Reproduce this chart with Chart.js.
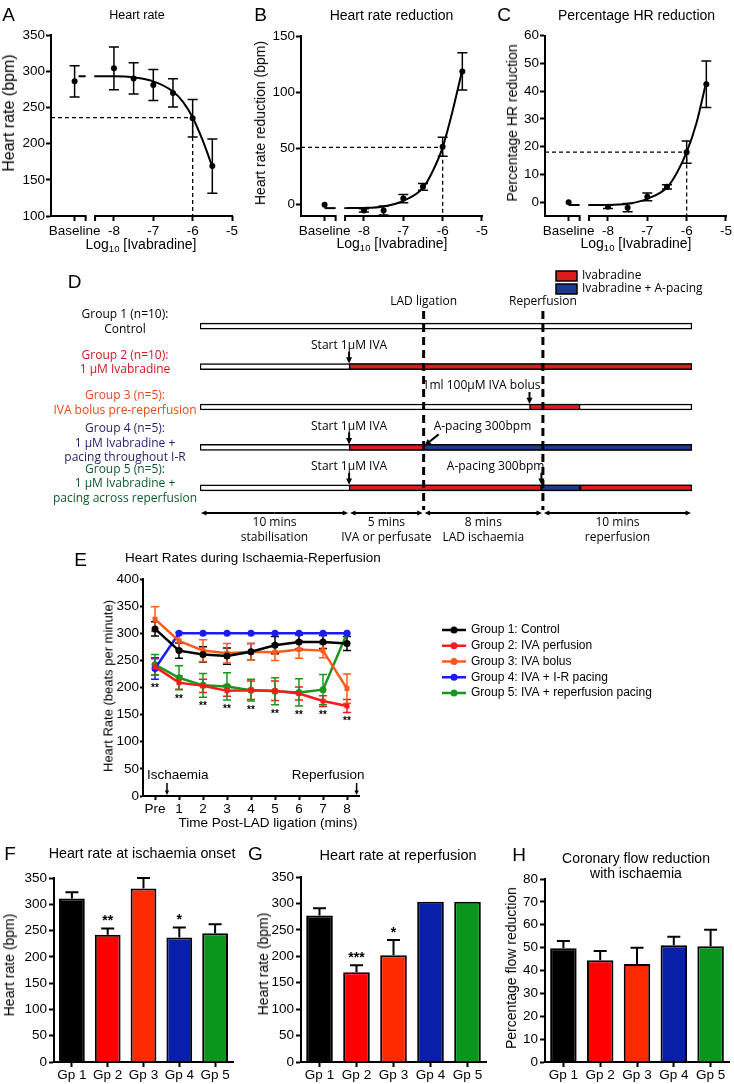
<!DOCTYPE html>
<html>
<head>
<meta charset="utf-8">
<script src="https://cdn.jsdelivr.net/npm/chart.js@4.4.1/dist/chart.umd.min.js"></script>
<style>
  body { margin: 0; background: #fff; }
  #page { position: relative; width: 734px; height: 1084px; overflow: hidden;
          font-family: "Liberation Sans", Arial, Helvetica, sans-serif; color: #000; }
  #page canvas { position: absolute; }
  .txt { position: absolute; white-space: nowrap; line-height: 1; transform: translate(-50%, -50%); }
  .txt sub { font-size: 0.68em; vertical-align: -0.3em; }
</style>
</head>
<body>
<div id="page"></div>
<script>
// ---- A-C: dose response to ivabradine (log10 M) ----
const doseTickValues = [-9, -8, -7, -6, -5];
const doseLabels = ['Baseline', '-8', '-7', '-6', '-5'];
const doseX = [-9, -8, -7.5, -7, -6.5, -6, -5.5];

const hrMean = [286, 304, 290, 281, 270, 235, 169];
const hrSem = [21.5, 29.5, 21.5, 21.5, 19.5, 26, 37.5];
const hrFitX = [-8.5, -8, -7.5, -7, -6.5, -6.25, -6, -5.75, -5.5];
const hrFit = [293, 293, 291.5, 286, 272, 258, 236, 205, 168];
const hrTicks = [100, 150, 200, 250, 300, 350];

const redMean = [0, -5, -5, 5.5, 16, 51.5, 118.5];
const redSem = [0, 1.5, 4, 3.7, 3, 8.4, 16.6];
const redFit = [-3, -2.8, -1.5, 3.5, 15, 30, 51, 83, 120];
const redTicks = [0, 50, 100, 150];

const pctMean = [0, -1.7, -2, 1.9, 5.5, 18, 42.5];
const pctSem = [0, 0.6, 1.5, 1.4, 0.8, 4, 8.4];
const pctFit = [-1, -1, -0.6, 1.2, 5.3, 10.5, 18, 28.5, 43.5];
const pctTicks = [0, 10, 20, 30, 40, 50, 60];

// ---- D: protocol timeline (minutes) ----
const groupNames = [
  ['Group 1 (n=10):', 'Control'],
  ['Group 2 (n=10):', '1 μM Ivabradine'],
  ['Group 3 (n=5):', 'IVA bolus pre-reperfusion'],
  ['Group 4 (n=5):', '1 μM Ivabradine +', 'pacing throughout I-R'],
  ['Group 5 (n=5):', '1 μM Ivabradine +', 'pacing across reperfusion']
];
const phaseNames = [['10 mins', 'stabilisation'], ['5 mins', 'IVA or perfusate'], ['8 mins', 'LAD ischaemia'], ['10 mins', 'reperfusion']];
const phaseEnds = [10, 15, 23, 33];
const ivaSegments = [null, [10, 33], [22.1, 25.5], [10, 15], [10, 22.9]];
const ivaLateSegments = [null, null, null, null, [25.5, 33]];
const pacingSegments = [null, null, null, [15, 33], [22.9, 25.5]];
const protocolEvents = [
  { group: 1, t: 10, text: 'Start 1μM IVA', align: 'center', dx: 0 },
  { group: 2, t: 22.1, text: '1ml 100μM IVA bolus', align: 'right', dx: 11 },
  { group: 3, t: 10, text: 'Start 1μM IVA', align: 'center', dx: 0 },
  { group: 3, t: 15, text: 'A-pacing 300bpm', align: 'left', dx: 10, diagonal: true },
  { group: 4, t: 10, text: 'Start 1μM IVA', align: 'center', dx: 0 },
  { group: 4, t: 22.9, text: 'A-pacing 300bpm', align: 'right', dx: 3 }
];

// ---- E: heart rate during ischaemia-reperfusion ----
const eTimes = [0, 1, 2, 3, 4, 5, 6, 7, 8];
const eTickLabels = ['Pre', '1', '2', '3', '4', '5', '6', '7', '8'];
const eLabels = ['Group 1: Control', 'Group 2: IVA perfusion', 'Group 3: IVA bolus', 'Group 4: IVA + I-R pacing', 'Group 5: IVA + reperfusion pacing'];
const g1Mean = [308, 268, 261, 258, 266, 278, 284, 284, 281];
const g1Sem = [13, 14, 14, 15, 15, 16, 13, 12, 13];
const g2Mean = [238, 209, 203, 194, 195, 194, 189, 175, 166];
const g2Sem = [15, 12, 12, 10, 17, 18, 12, 10, 12];
const g3Mean = [326, 286, 268, 263, 266, 265, 270, 268, 198];
const g3Sem = [23, 16, 20, 18, 15, 15, 16, 13, 27];
const g4Mean = [235, 300, 300, 300, 300, 300, 300, 300, 300];
const g4Sem = [20, 0, 0, 0, 0, 0, 0, 0, 0];
const g5Mean = [242, 218, 204, 202, 195, 193, 191, 196, 300];
const g5Sem = [19, 22, 22, 25, 20, 25, 25, 28, 0];
const eSig = ['**', '**', '**', '**', '**', '**', '**', '**', '**'];

// ---- F-H: group comparisons ----
const gpLabels = ['Gp 1', 'Gp 2', 'Gp 3', 'Gp 4', 'Gp 5'];
const onsetMean = [311, 242, 330, 237, 245];
const onsetSem = [12, 12, 20, 19, 17];
const onsetSig = ['', '**', '', '*', ''];
const reperfMean = [277, 170, 202, 303, 303];
const reperfSem = [14, 13, 29, 0, 0];
const reperfSig = ['', '***', '*', '', ''];
const flowMean = [49.7, 44.5, 42.8, 51, 50.6];
const flowSem = [3.2, 4, 7.2, 3.8, 7.2];
const flowSig = ['', '', '', '', ''];
const hrBarTicks = [0, 50, 100, 150, 200, 250, 300, 350];
const flowTicks = [0, 10, 20, 30, 40, 50, 60, 70, 80];

// colours
const black = '#000000';
const gpColors = ['#000000', '#ff0000', '#ff2a00', '#0a1fa8', '#0a961c'];
const lineColors = ['#000000', '#ff1a1a', '#ff5a1a', '#1a1aff', '#1a961e'];
const groupColors = ['#000000', '#d4161d', '#e9481c', '#1f1f6e', '#0c5a2a'];
const ivaRed = '#e01b1b';
const pacingBlue = '#1f3a8c';

const doseMin = -9.6, breakLeft = -8.72, breakRight = -8.48;

Chart.defaults.font.family = '"Liberation Sans", Arial, Helvetica, sans-serif';
Chart.defaults.font.size = 13.5;
Chart.defaults.color = black;

const page = document.getElementById('page');

function addCanvas(left, top, w, h) {
  const c = document.createElement('canvas');
  c.width = w; c.height = h;
  c.style.left = left + 'px'; c.style.top = top + 'px';
  c.style.width = w + 'px'; c.style.height = h + 'px';
  page.appendChild(c);
  return c;
}

function addText(html, x, y, size, mode) {
  const d = document.createElement('div');
  d.className = 'txt';
  d.innerHTML = html;
  d.style.left = x + 'px'; d.style.top = y + 'px'; d.style.fontSize = size + 'px';
  if (mode === 'rotate') d.style.transform = 'translate(-50%, -50%) rotate(-90deg)';
  if (mode === 'left') d.style.transform = 'translate(0, -50%)';
  page.appendChild(d);
}

function arrow(ctx, x1, y1, x2, y2, head) {
  head = head || 5;
  const a = Math.atan2(y2 - y1, x2 - x1);
  ctx.beginPath();
  ctx.moveTo(x1, y1);
  ctx.lineTo(x2 - Math.cos(a) * head * 0.8, y2 - Math.sin(a) * head * 0.8);
  ctx.stroke();
  ctx.beginPath();
  ctx.moveTo(x2, y2);
  ctx.lineTo(x2 - head * Math.cos(a - 0.45), y2 - head * Math.sin(a - 0.45));
  ctx.lineTo(x2 - head * Math.cos(a + 0.45), y2 - head * Math.sin(a + 0.45));
  ctx.closePath();
  ctx.fill();
}

function axisY(o) {
  return {
    type: 'linear', min: o.min, max: o.max,
    border: { display: true, color: black, width: 2 },
    grid: { display: true, drawOnChartArea: false, drawTicks: true, tickLength: o.tick || 5, tickColor: black, tickWidth: 2 },
    ticks: { padding: o.pad === undefined ? 1 : o.pad, color: black, font: { size: 13.5 } },
    afterBuildTicks: s => { s.ticks = o.ticks.map(v => ({ value: v })); },
    afterFit: s => { s.width = o.width; }
  };
}

// symmetric error bars, drawn from the chart's own scales
function errorBars(xs, means, sems, colors, cap) {
  return {
    id: 'errorBars',
    beforeDatasetsDraw(chart) {
      const { ctx, scales: { x, y } } = chart;
      ctx.save();
      ctx.lineWidth = 1.5;
      means.forEach((m, k) => {
        ctx.strokeStyle = colors[k];
        xs.forEach((xv, i) => {
          if (!sems[k][i]) return;
          const px = x.getPixelForValue(xv);
          const top = y.getPixelForValue(m[i] + sems[k][i]);
          const bot = y.getPixelForValue(m[i] - sems[k][i]);
          ctx.beginPath();
          ctx.moveTo(px, top); ctx.lineTo(px, bot);
          ctx.moveTo(px - cap, top); ctx.lineTo(px + cap, top);
          ctx.moveTo(px - cap, bot); ctx.lineTo(px + cap, bot);
          ctx.stroke();
        });
      });
      ctx.restore();
    }
  };
}

// x axis with a break between Baseline and the concentrations
const brokenAxis = {
  id: 'brokenAxis',
  afterDraw(chart) {
    const { ctx, chartArea, scales: { x } } = chart;
    const yb = chartArea.bottom;
    ctx.save();
    ctx.strokeStyle = black; ctx.lineWidth = 2;
    ctx.beginPath();
    ctx.moveTo(x.getPixelForValue(doseMin), yb);
    ctx.lineTo(x.getPixelForValue(breakLeft), yb);
    ctx.lineTo(x.getPixelForValue(breakLeft), yb + 5);
    ctx.moveTo(x.getPixelForValue(breakRight), yb + 5);
    ctx.lineTo(x.getPixelForValue(breakRight), yb);
    ctx.lineTo(x.getPixelForValue(-5) + 1, yb);
    ctx.stroke();
    ctx.restore();
  }
};

function doseChart(o) {
  const canvas = addCanvas(o.left, 0, 245, 262);
  new Chart(canvas, {
    type: 'line',
    data: {
      datasets: [
        { data: hrFitX.map((x, i) => ({ x: x, y: o.fit[i] })), borderColor: black, borderWidth: 2,
          pointRadius: 0, cubicInterpolationMode: 'monotone' },
        { data: [{ x: o.baseFrom, y: o.fit[0] }, { x: breakLeft, y: o.fit[0] }], borderColor: black,
          borderWidth: 2, pointRadius: 0 },
        { data: [{ x: doseMin, y: o.fit[6] }, { x: -6, y: o.fit[6] }, { x: -6, y: o.min }], borderColor: black,
          borderWidth: 1.3, borderDash: [4, 3], pointRadius: 0, tension: 0 },
        { data: doseX.map((x, i) => ({ x: x, y: o.mean[i] })), showLine: false, pointRadius: 3,
          pointBackgroundColor: black, pointBorderColor: black, pointBorderWidth: 0 }
      ]
    },
    options: {
      responsive: false, animation: false, events: [], devicePixelRatio: 1,
      layout: { autoPadding: false, padding: { left: 0, top: o.top, right: o.right, bottom: 6 } },
      plugins: { legend: { display: false }, tooltip: { enabled: false } },
      scales: {
        x: {
          type: 'linear', min: doseMin, max: -5,
          border: { display: false },
          grid: { display: true, drawOnChartArea: false, drawTicks: true, tickLength: 5, tickColor: black, tickWidth: 2 },
          ticks: { padding: 2, color: black, font: { size: 13.5 }, maxRotation: 0, autoSkip: false,
                   callback: (v, i) => doseLabels[i] },
          afterBuildTicks: s => { s.ticks = doseTickValues.map(v => ({ value: v })); },
          afterFit: s => { s.height = 40; }
        },
        y: axisY({ min: o.min, max: o.max, ticks: o.ticks, width: o.width })
      }
    },
    plugins: [errorBars(doseX, [o.mean], [o.sem], [black], 5), brokenAxis]
  });
}

doseChart({ left: 0, top: 35, right: 13, width: 51, min: 100, max: 350, ticks: hrTicks,
            mean: hrMean, sem: hrSem, fit: hrFit, baseFrom: -8.9 });
doseChart({ left: 245, top: 36, right: 8, width: 56, min: -10, max: 150, ticks: redTicks,
            mean: redMean, sem: redSem, fit: redFit, baseFrom: -9.0 });
doseChart({ left: 489, top: 35.7, right: 7, width: 56, min: -5, max: 60, ticks: pctTicks,
            mean: pctMean, sem: pctSem, fit: pctFit, baseFrom: -9.0 });

// ---- D ----
const schemePlugin = {
  id: 'scheme',
  afterDatasetsDraw(chart) {
    const { ctx, chartArea: area, scales: { x, y } } = chart;
    const rowY = i => y.getPixelForValue(i);
    ctx.save();
    ctx.font = '12px "Open Sans"';
    ctx.textBaseline = 'middle';

    // group descriptions
    ctx.textAlign = 'center';
    groupNames.forEach((lines, i) => {
      ctx.fillStyle = groupColors[i];
      const y0 = rowY(i) - 4 - (lines.length - 1) * 14.5 / 2;
      lines.forEach((s, k) => ctx.fillText(s, 125, y0 + k * 14.5));
    });

    // LAD ligation / reperfusion markers
    ctx.fillStyle = black; ctx.strokeStyle = black;
    [[phaseEnds[1], 'LAD ligation'], [phaseEnds[2], 'Reperfusion']].forEach(([t, label]) => {
      const px = x.getPixelForValue(t);
      ctx.fillText(label, px, 40);
      ctx.lineWidth = 3; ctx.setLineDash([8, 5]);
      ctx.beginPath(); ctx.moveTo(px, 49); ctx.lineTo(px, area.bottom + 2); ctx.stroke();
    });
    ctx.setLineDash([]);

    // drug / pacing events
    protocolEvents.forEach(ev => {
      const px = x.getPixelForValue(ev.t), py = rowY(ev.group);
      ctx.textAlign = ev.align;
      ctx.fillText(ev.text, px + ev.dx, py - 21);
      ctx.lineWidth = 2;
      if (ev.diagonal) arrow(ctx, px + 15, py - 13, px + 1, py - 2, 7);
      else arrow(ctx, px, py - 15, px, py - 3, 7);
    });

    // phase durations
    const ya = area.bottom + 5;
    ctx.textAlign = 'center'; ctx.lineWidth = 2;
    phaseEnds.forEach((end, i) => {
      const start = i ? phaseEnds[i - 1] : 0;
      const a = x.getPixelForValue(start) + 1, b = x.getPixelForValue(end) - 1;
      arrow(ctx, (a + b) / 2, ya, a, ya, 6);
      arrow(ctx, (a + b) / 2, ya, b, ya, 6);
      ctx.fillText(phaseNames[i][0], (a + b) / 2, ya + 10);
      ctx.fillText(phaseNames[i][1], (a + b) / 2, ya + 25);
    });

    // legend
    ctx.textAlign = 'left'; ctx.lineWidth = 1.5;
    [[ivaRed, 'Ivabradine', 9], [pacingBlue, 'Ivabradine + A-pacing', 22]].forEach(([c, label, ly]) => {
      ctx.fillStyle = c; ctx.fillRect(556, ly, 21, 10);
      ctx.strokeRect(556, ly, 21, 10);
      ctx.fillStyle = black; ctx.fillText(label, 582, ly + 5);
    });
    ctx.restore();
  }
};

// higher order is drawn first, so the white perfusate bar sits underneath
const segStyle = { borderColor: black, borderWidth: 1.5, borderSkipped: false, barThickness: 6, grouped: false, order: 1 };
new Chart(addCanvas(0, 262, 734, 285), {
  type: 'bar',
  data: {
    labels: groupNames.map(g => g[0]),
    datasets: [
      Object.assign({}, segStyle, { label: 'Perfusate', data: groupNames.map(() => [0, phaseEnds[3]]), backgroundColor: '#ffffff', order: 2 }),
      Object.assign({}, segStyle, { label: 'Ivabradine', data: ivaSegments, backgroundColor: ivaRed }),
      Object.assign({}, segStyle, { label: 'Ivabradine', data: ivaLateSegments, backgroundColor: ivaRed }),
      Object.assign({}, segStyle, { label: 'Ivabradine + A-pacing', data: pacingSegments, backgroundColor: pacingBlue })
    ]
  },
  options: {
    indexAxis: 'y', responsive: false, animation: false, events: [], devicePixelRatio: 1,
    layout: { autoPadding: false, padding: { left: 200, right: 42, top: 44, bottom: 39 } },
    plugins: { legend: { display: false }, tooltip: { enabled: false } },
    scales: {
      x: { type: 'linear', min: 0, max: phaseEnds[3], display: false },
      y: { type: 'category', display: false }
    }
  },
  plugins: [schemePlugin]
});

// ---- E ----
const eMeans = [g1Mean, g2Mean, g3Mean, g4Mean, g5Mean];
const eSems = [g1Sem, g2Sem, g3Sem, g4Sem, g5Sem];
const ePoints = ['circle', 'rect', 'rect', 'circle', 'circle'];

const eExtras = {
  id: 'eExtras',
  afterDraw(chart) {
    const { ctx, chartArea: area, scales: { x, y } } = chart;
    ctx.save();
    ctx.fillStyle = black; ctx.strokeStyle = black;
    // significance under the lowest error bar
    ctx.font = 'bold 10px "Liberation Sans"'; ctx.textAlign = 'center'; ctx.textBaseline = 'alphabetic';
    eTimes.forEach((t, i) => {
      const low = Math.min(...eMeans.map((m, k) => m[i] - eSems[k][i]));
      ctx.fillText(eSig[i], x.getPixelForValue(t), y.getPixelForValue(low) + 12);
    });
    // ischaemia / reperfusion arrows
    ctx.font = '13.5px "Liberation Sans"'; ctx.textBaseline = 'middle'; ctx.lineWidth = 1.5;
    [[0.5, 'Ischaemia', 'left', -20], [8.4, 'Reperfusion', 'right', 8]].forEach(([t, label, al, dx]) => {
      const px = x.getPixelForValue(t);
      ctx.textAlign = al;
      ctx.fillText(label, px + dx, area.bottom - 21);
      arrow(ctx, px, area.bottom - 13, px, area.bottom - 1, 5);
    });
    // legend
    ctx.font = '12px "Liberation Sans"'; ctx.textAlign = 'left';
    chart.data.datasets.forEach((ds, i) => {
      const ly = 82 + i * 15.75;
      ctx.strokeStyle = ds.borderColor; ctx.fillStyle = ds.borderColor; ctx.lineWidth = 2.5;
      ctx.beginPath(); ctx.moveTo(442, ly); ctx.lineTo(466, ly); ctx.stroke();
      ctx.beginPath(); ctx.arc(454, ly, 3.5, 0, Math.PI * 2); ctx.fill();
      ctx.fillStyle = black;
      ctx.fillText(ds.label, 471, ly);
    });
    ctx.restore();
  }
};

new Chart(addCanvas(0, 548, 734, 282), {
  type: 'line',
  data: {
    datasets: eMeans.map((m, k) => ({
      label: eLabels[k],
      data: eTimes.map((t, i) => ({ x: t, y: m[i] })),
      borderColor: lineColors[k], backgroundColor: lineColors[k], borderWidth: 2.5,
      pointRadius: 3.5, pointStyle: ePoints[k], pointBorderWidth: 0, tension: 0
    }))
  },
  options: {
    responsive: false, animation: false, events: [], devicePixelRatio: 1,
    layout: { autoPadding: false, padding: { left: 0, top: 31, right: 375, bottom: 4 } },
    plugins: { legend: { display: false }, tooltip: { enabled: false } },
    scales: {
      x: {
        type: 'linear', min: -0.5, max: 8.5,
        border: { display: true, color: black, width: 2 },
        grid: { display: true, drawOnChartArea: false, drawTicks: true, tickLength: 4, tickColor: black, tickWidth: 2 },
        ticks: { padding: 1, color: black, font: { size: 13.5 }, autoSkip: false, maxRotation: 0,
                 callback: (v, i) => eTickLabels[i] },
        afterBuildTicks: s => { s.ticks = eTimes.map(v => ({ value: v })); },
        afterFit: s => { s.height = 30; }
      },
      y: axisY({ min: 0, max: 400, ticks: [0, 50, 100, 150, 200, 250, 300, 350, 400], width: 143, tick: 3, pad: 1 })
    }
  },
  plugins: [errorBars(eTimes, eMeans, eSems, lineColors, 4), eExtras]
});

// ---- F-H ----
function barExtras(mean, sem, sig) {
  return {
    id: 'barExtras',
    afterDatasetsDraw(chart) {
      const { ctx, scales: { x, y } } = chart;
      ctx.save();
      ctx.strokeStyle = black; ctx.fillStyle = black; ctx.lineWidth = 2;
      ctx.font = 'bold 14px "Liberation Sans"'; ctx.textAlign = 'center'; ctx.textBaseline = 'alphabetic';
      mean.forEach((m, i) => {
        const px = x.getPixelForValue(i);
        const top = y.getPixelForValue(m + sem[i]);
        if (sem[i]) {
          ctx.beginPath();
          ctx.moveTo(px, y.getPixelForValue(m)); ctx.lineTo(px, top);
          ctx.moveTo(px - 6.5, top); ctx.lineTo(px + 6.5, top);
          ctx.stroke();
        }
        if (sig[i]) ctx.fillText(sig[i], px, top - 3);
      });
      ctx.restore();
    }
  };
}

function barChart(o) {
  new Chart(addCanvas(o.left, 840, 245, 244), {
    type: 'bar',
    data: {
      labels: gpLabels,
      datasets: [{ data: o.mean, backgroundColor: gpColors, borderColor: black, borderWidth: 2,
                   barPercentage: 0.72, categoryPercentage: 1 }]
    },
    options: {
      responsive: false, animation: false, events: [], devicePixelRatio: 1,
      layout: { autoPadding: false, padding: { left: 0, top: o.top, right: o.right, bottom: 0 } },
      plugins: { legend: { display: false }, tooltip: { enabled: false } },
      scales: {
        x: {
          type: 'category',
          border: { display: true, color: black, width: 2 },
          grid: { display: true, offset: false, drawOnChartArea: false, drawTicks: true, tickLength: 5, tickColor: black, tickWidth: 2 },
          ticks: { padding: 0, color: black, font: { size: 13.5 }, maxRotation: 0, autoSkip: false },
          afterFit: s => { s.height = 22; }
        },
        y: axisY({ min: 0, max: o.max, ticks: o.ticks, width: o.width, pad: 2 })
      }
    },
    plugins: [barExtras(o.mean, o.sem, o.sig)]
  });
}

barChart({ left: 0, top: 38, right: 12, width: 54, max: 350, ticks: hrBarTicks, mean: onsetMean, sem: onsetSem, sig: onsetSig });
barChart({ left: 245, top: 37, right: 4, width: 56, max: 350, ticks: hrBarTicks, mean: reperfMean, sem: reperfSem, sig: reperfSig });
barChart({ left: 489, top: 39, right: 5, width: 56, max: 80, ticks: flowTicks, mean: flowMean, sem: flowSem, sig: flowSig });

// ---- text: panel letters, titles, axis titles ----
[['A', 8.5, 14], ['B', 260.5, 14], ['C', 504, 14], ['D', 74.5, 281], ['E', 80.5, 558.5],
 ['F', 10, 852.5], ['G', 255.5, 852.5], ['H', 519, 853.5]].forEach(([s, x, y]) => addText(s, x, y, 19));

addText('Heart rate', 137, 15, 12.5);
addText('Heart rate reduction', 391.5, 15, 14);
addText('Percentage HR reduction', 636.5, 15, 14);
addText('Log<sub>10</sub> [Ivabradine]', 141, 245, 14);
addText('Log<sub>10</sub> [Ivabradine]', 392, 244, 14);
addText('Log<sub>10</sub> [Ivabradine]', 636, 244, 14);
addText('Heart rate (bpm)', 9, 113, 16, 'rotate');
addText('Heart rate reduction (bpm)', 259.5, 123, 14, 'rotate');
addText('Percentage HR reduction', 512, 123, 14, 'rotate');

addText('Heart Rates during Ischaemia-Reperfusion', 125, 558, 13.5, 'left');
addText('Heart Rate (beats per minute)', 108, 686, 13, 'rotate');
addText('Time Post-LAD ligation (mins)', 268, 823, 13.5);

addText('Heart rate at ischaemia onset', 142, 853, 14.3);
addText('Heart rate at reperfusion', 398, 855, 14.5);
addText('Coronary flow reduction', 636, 858, 14);
addText('with ischaemia', 636, 873, 14);
addText('Heart rate (bpm)', 9, 965, 14, 'rotate');
addText('Heart rate (bpm)', 263, 964, 14, 'rotate');
addText('Percentage flow reduction', 510.7, 967.5, 14, 'rotate');
</script>
</body>
</html>
